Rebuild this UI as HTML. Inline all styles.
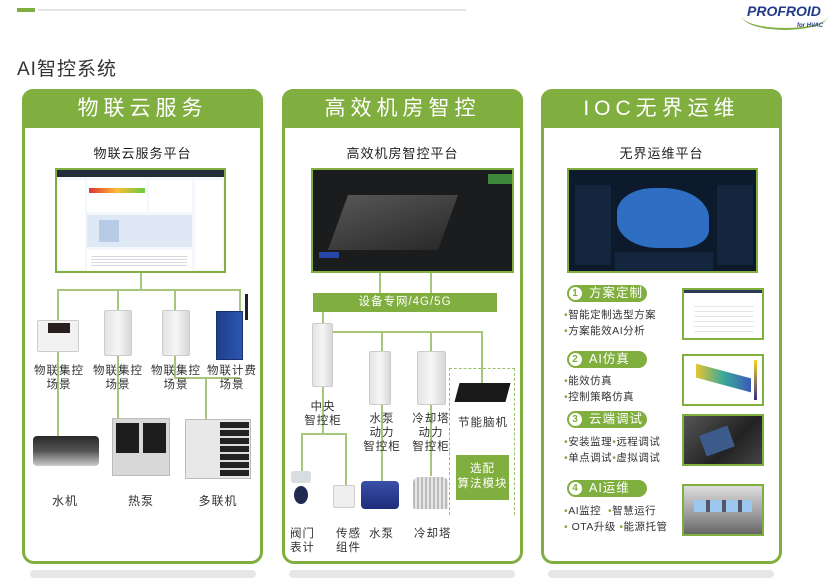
<!DOCTYPE html>
<html><head><meta charset="utf-8">
<style>
*{margin:0;padding:0;box-sizing:border-box}
body{width:830px;height:586px;background:#fff;position:relative;overflow:hidden;font-family:"Liberation Sans","Noto Sans CJK SC",sans-serif;color:#333}
.a{position:absolute}
.panel{position:absolute;top:89px;width:241px;height:475px;border:3px solid #80ae3f;border-radius:12px;background:#fff}
.hd{position:absolute;left:-3px;top:-3px;right:-3px;height:39px;background:#80ae3f;border-radius:11px 11px 0 0;color:#fff;font-size:21px;text-align:center;line-height:39px;letter-spacing:5px}
.sub{position:absolute;width:100%;text-align:center;font-size:13px;top:51px;letter-spacing:1px;color:#222}
.shadow{position:absolute;top:570px;width:226px;height:8px;background:#e6e6e6;border-radius:4px}
.l{position:absolute;background:#a6c77a}
.t{position:absolute;font-size:11.5px;color:#333;text-align:center;line-height:14px;letter-spacing:1px}
.dev{position:absolute;background:linear-gradient(90deg,#e4e4e4,#f6f6f6 50%,#d8d8d8);border:1px solid #ccc;border-radius:2px}
.pill{position:absolute;left:23px;width:80px;height:17px;background:#80ae3f;border-radius:9px;color:#fff;font-size:12.5px;line-height:17px;padding-left:22px;letter-spacing:1px}
.pill b{position:absolute;left:2px;top:2px;width:13px;height:13px;border-radius:50%;background:#fff;color:#80ae3f;font-size:10px;line-height:13px;text-align:center;font-weight:bold}
.bl{position:absolute;left:20px;font-size:10.5px;color:#333;line-height:16px;letter-spacing:0.5px;white-space:nowrap}
.bl i{color:#80ae3f;font-style:normal}
.img{position:absolute;left:138px;width:82px;height:52px;border:2px solid #80ae3f}
</style></head><body>
<div class="a" style="left:17px;top:8px;width:18px;height:4px;background:#80ae3f"></div>
<div class="a" style="left:38px;top:9px;width:428px;height:2px;background:#e4e4e4"></div>
<div class="a" style="left:742px;top:2px;width:86px;height:28px;border-bottom:2px solid #80ae3f;border-radius:0 0 50% 50%"></div>
<div class="a" style="left:747px;top:3px;font-size:14px;font-weight:bold;font-style:italic;color:#233a8a">PROFROID</div>
<div class="a" style="left:797px;top:23px;font-size:6px;font-weight:bold;font-style:italic;color:#233a8a">for HVAC</div>
<div class="a" style="left:17px;top:54px;font-size:19px;color:#333;letter-spacing:1px">AI智控系统</div>

<!-- Panel 1 -->
<div class="panel" style="left:22px">
<div class="hd">物联云服务</div>
<div class="sub">物联云服务平台</div>
</div>
<div class="a" style="left:55px;top:168px;width:171px;height:105px;border:2px solid #80ae3f;background:#f4f7fb">
 <div class="a" style="left:0;top:0;width:167px;height:7px;background:#222c3a"></div>
 <div class="a" style="left:2px;top:10px;width:26px;height:90px;background:#fff"></div>
 <div class="a" style="left:30px;top:10px;width:60px;height:32px;background:#fff"></div>
 <div class="a" style="left:92px;top:10px;width:43px;height:32px;background:#fff"></div>
 <div class="a" style="left:32px;top:18px;width:56px;height:5px;background:linear-gradient(90deg,#d33,#fb3,#6c4)"></div>
 <div class="a" style="left:30px;top:45px;width:105px;height:32px;background:#dfe8f5"></div>
 <div class="a" style="left:42px;top:50px;width:20px;height:22px;background:#b8cbe6"></div>
 <div class="a" style="left:30px;top:80px;width:105px;height:21px;background:#fff"></div>
 <div class="a" style="left:34px;top:84px;width:96px;height:14px;background:repeating-linear-gradient(#fff 0 2px,#d6d9de 2px 3px)"></div>
 <div class="a" style="left:138px;top:10px;width:27px;height:90px;background:#fff"></div>
</div>
<div class="l" style="left:140px;top:273px;width:2px;height:17px"></div>
<div class="l" style="left:57px;top:289px;width:184px;height:2px"></div>
<div class="l" style="left:57px;top:289px;width:2px;height:150px"></div>
<div class="l" style="left:117px;top:289px;width:2px;height:130px"></div>
<div class="l" style="left:174px;top:289px;width:2px;height:90px"></div>
<div class="l" style="left:174px;top:377px;width:66px;height:2px"></div>
<div class="l" style="left:205px;top:377px;width:2px;height:42px"></div>
<div class="l" style="left:239px;top:289px;width:2px;height:30px"></div>
<div class="dev" style="left:37px;top:320px;width:42px;height:32px;background:#f2f2f2"><div class="a" style="left:10px;top:2px;width:22px;height:10px;background:#2a1f1f"></div></div>
<div class="dev" style="left:104px;top:310px;width:28px;height:46px"></div>
<div class="dev" style="left:162px;top:310px;width:28px;height:46px"></div>
<div class="a" style="left:216px;top:311px;width:27px;height:49px;background:linear-gradient(90deg,#1f3f8a,#2d56b0);border:1px solid #183070"></div>
<div class="a" style="left:245px;top:294px;width:3px;height:26px;background:#222"></div>
<div class="t" style="left:33px;top:364px;width:52px">物联集控<br>场景</div>
<div class="t" style="left:92px;top:364px;width:52px">物联集控<br>场景</div>
<div class="t" style="left:150px;top:364px;width:52px">物联集控<br>场景</div>
<div class="t" style="left:206px;top:364px;width:52px">物联计费<br>场景</div>
<div class="a" style="left:33px;top:436px;width:66px;height:30px;background:linear-gradient(#2a2a2a,#555 50%,#ccc);border-radius:4px"></div>
<div class="a" style="left:112px;top:418px;width:58px;height:58px;background:#d8d8d8;border:1px solid #bbb"><div class="a" style="left:3px;top:4px;width:23px;height:30px;background:#1d1d1d"></div><div class="a" style="left:30px;top:4px;width:23px;height:30px;background:#1d1d1d"></div></div>
<div class="a" style="left:185px;top:419px;width:66px;height:60px;background:#e8e8e8;border:1px solid #bbb"><div class="a" style="left:34px;top:2px;width:29px;height:54px;background:repeating-linear-gradient(#222 0 6px,#ddd 6px 8px)"></div></div>
<div class="t" style="left:50px;top:494px;width:30px;font-size:12px">水机</div>
<div class="t" style="left:126px;top:494px;width:30px;font-size:12px">热泵</div>
<div class="t" style="left:198px;top:494px;width:40px;font-size:12px">多联机</div>
<div class="shadow" style="left:30px"></div>

<!-- Panel 2 -->
<div class="panel" style="left:282px">
<div class="hd">高效机房智控</div>
<div class="sub">高效机房智控平台</div>
</div>
<div class="a" style="left:311px;top:168px;width:203px;height:105px;border:2px solid #80ae3f;background:#1b1c1e">
 <div class="a" style="left:25px;top:25px;width:110px;height:55px;background:linear-gradient(160deg,#555,#2a2a2a);transform:skewX(-20deg)"></div>
 <div class="a" style="left:175px;top:4px;width:24px;height:10px;background:#3c8a3a"></div>
 <div class="a" style="left:6px;top:82px;width:20px;height:6px;background:#2746a8"></div>
</div>
<div class="l" style="left:379px;top:273px;width:2px;height:20px"></div>
<div class="l" style="left:430px;top:273px;width:2px;height:20px"></div>
<div class="a" style="left:313px;top:293px;width:184px;height:19px;background:#80ae3f;color:#fff;font-size:11.5px;text-align:center;line-height:19px;letter-spacing:1px">设备专网/4G/5G</div>
<div class="l" style="left:322px;top:312px;width:2px;height:122px"></div>
<div class="l" style="left:333px;top:331px;width:150px;height:2px"></div>
<div class="l" style="left:381px;top:331px;width:2px;height:150px"></div>
<div class="l" style="left:430px;top:331px;width:2px;height:145px"></div>
<div class="l" style="left:481px;top:331px;width:2px;height:52px"></div>
<div class="l" style="left:301px;top:433px;width:45px;height:2px"></div>
<div class="l" style="left:301px;top:433px;width:2px;height:40px"></div>
<div class="l" style="left:345px;top:433px;width:2px;height:52px"></div>
<div class="dev" style="left:312px;top:323px;width:21px;height:64px"></div>
<div class="dev" style="left:369px;top:351px;width:22px;height:54px"></div>
<div class="dev" style="left:417px;top:351px;width:29px;height:54px"></div>
<div class="a" style="left:449px;top:368px;width:66px;height:147px;border:1px dashed #9bbf6a;border-bottom:none"></div>
<div class="a" style="left:457px;top:383px;width:51px;height:19px;background:#1a1a1a;transform:skewX(-15deg)"></div>
<div class="t" style="left:300px;top:400px;width:46px">中央<br>智控柜</div>
<div class="t" style="left:359px;top:412px;width:46px">水泵<br>动力<br>智控柜</div>
<div class="t" style="left:407px;top:412px;width:48px">冷却塔<br>动力<br>智控柜</div>
<div class="t" style="left:456px;top:416px;width:54px">节能脑机</div>
<div class="a" style="left:456px;top:455px;width:53px;height:45px;background:#80ae3f;color:#fff;font-size:11.5px;text-align:center;line-height:15px;padding-top:7px;letter-spacing:1px">选配<br>算法模块</div>
<div class="a" style="left:291px;top:471px;width:20px;height:12px;background:#d8dde2;border-radius:3px"></div>
<div class="a" style="left:294px;top:486px;width:14px;height:18px;background:#1f2a50;border-radius:50%"></div>
<div class="dev" style="left:333px;top:485px;width:22px;height:23px;background:#eee"></div>
<div class="a" style="left:361px;top:481px;width:38px;height:28px;background:linear-gradient(#3a4fa8,#1c2c78);border-radius:4px"></div>
<div class="a" style="left:413px;top:477px;width:35px;height:32px;background:repeating-linear-gradient(90deg,#bbb 0 2px,#e6e6e6 2px 4px);border-radius:6px 6px 2px 2px"></div>
<div class="t" style="left:290px;top:527px;width:34px;text-align:left">阀门<br>表计</div>
<div class="t" style="left:336px;top:527px;width:34px;text-align:left">传感<br>组件</div>
<div class="t" style="left:369px;top:527px;width:34px;text-align:left">水泵</div>
<div class="t" style="left:414px;top:527px;width:44px;text-align:left">冷却塔</div>
<div class="shadow" style="left:289px"></div>

<!-- Panel 3 -->
<div class="panel" style="left:541px">
<div class="hd">IOC无界运维</div>
<div class="sub">无界运维平台</div>
<div class="pill" style="top:193px"><b>1</b>方案定制</div>
<div class="bl" style="top:215px"><i>•</i>智能定制选型方案<br><i>•</i>方案能效AI分析</div>
<div class="pill" style="top:259px"><b>2</b>AI仿真</div>
<div class="bl" style="top:281px"><i>•</i>能效仿真<br><i>•</i>控制策略仿真</div>
<div class="pill" style="top:319px"><b>3</b>云端调试</div>
<div class="bl" style="top:342px"><i>•</i>安装监理<i>•</i>远程调试<br><i>•</i>单点调试<i>•</i>虚拟调试</div>
<div class="pill" style="top:388px"><b>4</b>AI运维</div>
<div class="bl" style="top:411px"><i>•</i>AI监控 &nbsp;<i>•</i>智慧运行<br><i>•</i> OTA升级 <i>•</i>能源托管</div>
<div class="img" style="top:196px;background:#fff"><div class="a" style="left:0;top:0;width:78px;height:3px;background:#2b3a55"></div><div class="a" style="left:10px;top:12px;width:60px;height:30px;background:repeating-linear-gradient(#fff 0 4px,#e6e6e6 4px 5px)"></div></div>
<div class="img" style="top:262px;background:#fff"><div class="a" style="left:12px;top:15px;width:55px;height:14px;background:linear-gradient(90deg,#e5c532,#3aa99a,#3b5ab8);transform:skewY(15deg)"></div><div class="a" style="left:70px;top:4px;width:3px;height:40px;background:linear-gradient(#f5d623,#3a2a8a)"></div></div>
<div class="img" style="top:322px;background:linear-gradient(135deg,#555,#222 60%,#444)"><div class="a" style="left:18px;top:14px;width:30px;height:22px;background:#3c5a8a;transform:rotate(-20deg)"></div></div>
<div class="img" style="top:392px;background:linear-gradient(#ddd,#9a9a9a 60%,#666)"><div class="a" style="left:10px;top:14px;width:58px;height:12px;background:repeating-linear-gradient(90deg,#9cc7ef 0 12px,#556 12px 16px)"></div></div>
</div>
<div class="a" style="left:567px;top:168px;width:191px;height:105px;border:2px solid #80ae3f;background:#0d1a2b">
 <div class="a" style="left:48px;top:18px;width:92px;height:60px;background:#2e6fc4;border-radius:40% 50% 30% 45%"></div>
 <div class="a" style="left:6px;top:15px;width:36px;height:80px;background:#14263d"></div>
 <div class="a" style="left:148px;top:15px;width:36px;height:80px;background:#14263d"></div>
 <div class="a" style="left:46px;top:82px;width:98px;height:18px;background:#14263d"></div>
</div>
<div class="shadow" style="left:548px"></div>
</body></html>
